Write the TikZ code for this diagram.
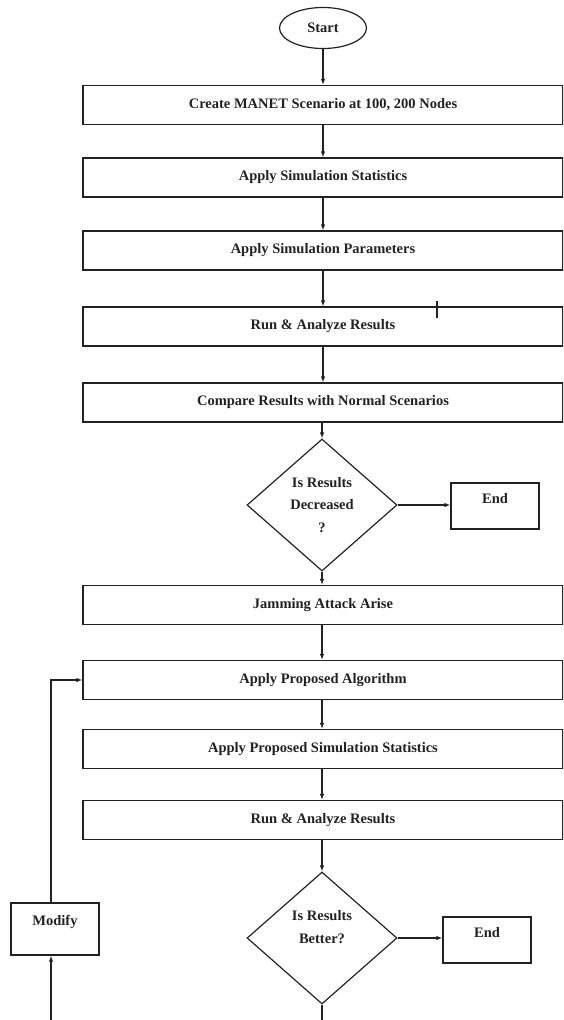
\documentclass[tikz,border=0pt]{standalone}
\usepackage{fontspec}
\setmainfont{Liberation Serif}
\usetikzlibrary{arrows.meta,shapes.geometric}
\definecolor{ink}{HTML}{222222}

\begin{document}
\begin{tikzpicture}[x=1pt,y=-1pt,text=ink,>={Latex[length=6pt,width=4.5pt]},
  font=\fontsize{14.5}{22.5}\selectfont\bfseries,
  line/.style={draw=ink,line width=1.2pt},
  stage/.style={line,rectangle,minimum width=480pt,minimum height=39pt,
    inner sep=0pt},
  check/.style={line,diamond,minimum width=150pt,minimum height=132pt,
    inner sep=0pt,align=center},
  halt/.style={line,rectangle,minimum width=88pt,inner sep=0pt,
    text height=20pt,text depth=26pt}]
  \useasboundingbox (0,0) rectangle (563,1020);
  \clip (0,0) rectangle (563,1020);

  \node[line,ellipse,minimum width=87pt,minimum height=41pt,inner sep=0pt]
    (start) at (323,28) {Start};
  \node[stage] (scen) at (323,105)
    {Create MANET Scenario at 100, 200 Nodes};
  \node[stage] (stats) at (323,177.5) {Apply Simulation Statistics};
  \node[stage] (params) at (323,250.5) {Apply Simulation Parameters};
  \node[stage] (run) at (323,326.5) {Run \& Analyze Results};
  \node[stage] (cmp) at (323,402.5)
    {Compare Results with Normal Scenarios};
  \node[check] (dec) at (322,505) {Is Results\\Decreased\\?};
  \node[halt] (end1) at (495,506) {End};
  \node[stage] (jam) at (323,605) {Jamming Attack Arise};
  \node[stage] (algo) at (323,680) {Apply Proposed Algorithm};
  \node[stage] (pstats) at (323,749)
    {Apply Proposed Simulation Statistics};
  \node[stage] (rerun) at (323,820) {Run \& Analyze Results};
  \node[check] (better) at (322,938) {Is Results\\Better?\\~};
  \node[halt] (end2) at (487,940) {End};
  \node[halt,text height=22pt,text depth=30pt] (mod) at (55,929) {Modify};
  \coordinate (loop) at (51,1040);

  \draw[line,->] (start) -- (scen);
  \draw[line,->] (scen) -- (stats);
  \draw[line,->] (stats) -- (params);
  \draw[line,->] (params) -- (run);
  \draw[line,->] (run) -- (cmp);
  \draw[line,->] (cmp.south -| dec.north) -- (dec.north);
  \draw[line,->] (dec.east) -- (dec.east -| end1.west);
  \draw[line,->] (dec.south) -- (dec.south |- jam.north);
  \draw[line,->] (jam.south -| dec.south) -- (algo.north -| dec.south);
  \draw[line,->] (algo.south -| dec.south) -- (pstats.north -| dec.south);
  \draw[line,->] (pstats.south -| dec.south) -- (rerun.north -| dec.south);
  \draw[line,->] (rerun.south -| better.north) -- (better.north);
  \draw[line,->] (better.east) -- (better.east -| end2.west);
  \draw[line,->] (better.south) -- (better.south |- loop) -- (loop)
    -- (loop |- mod.south);
  \draw[line,->] (loop |- mod.north) |- (algo.west);
  \draw[line] (437,301) -- (437,318);
\end{tikzpicture}
\end{document}
